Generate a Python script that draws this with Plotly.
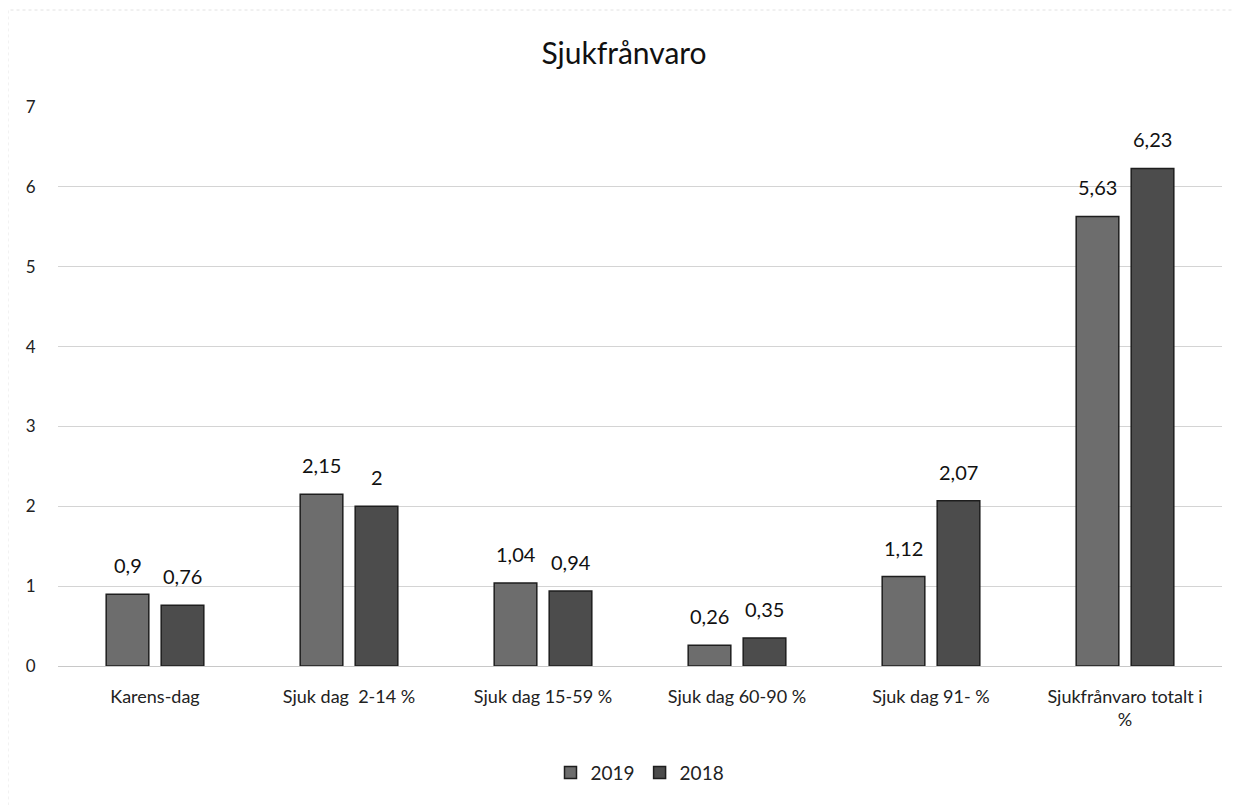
import plotly.graph_objects as go

categories = ["Karens-dag", "Sjuk dag  2-14 %", "Sjuk dag 15-59 %", "Sjuk dag 60-90 %",
              "Sjuk dag 91- %", "Sjukfrånvaro totalt i<br>%"]
values_2019 = [0.9, 2.15, 1.04, 0.26, 1.12, 5.63]
values_2018 = [0.76, 2.0, 0.94, 0.35, 2.07, 6.23]
y_ticks = [0, 1, 2, 3, 4, 5, 6, 7]

font_family = "Lato, Open Sans, sans-serif"


def fmt(v):
    s = ("%g" % v).replace(".", ",")
    return s


fig = go.Figure()
fig.add_trace(go.Bar(
    name="2019", x=categories, y=values_2019,
    marker=dict(color="#6d6d6d", line=dict(color="#1e1e1e", width=1.5)),
))
fig.add_trace(go.Bar(
    name="2018", x=categories, y=values_2018,
    marker=dict(color="#4c4c4c", line=dict(color="#1e1e1e", width=1.5)),
))

annotations = []
for series, dx in ((values_2019, -27.5), (values_2018, 27.5)):
    for cat, v in zip(categories, series):
        annotations.append(dict(
            x=cat, y=v, xref="x", yref="y", text=fmt(v), showarrow=False,
            xanchor="center", yanchor="bottom", xshift=dx, yshift=15,
            font=dict(size=20, color="#111111", family=font_family),
        ))

fig.update_layout(
    width=1232, height=797,
    paper_bgcolor="white", plot_bgcolor="white",
    separators=", ",
    font=dict(family=font_family, size=18, color="#222222"),
    title=dict(text="Sjukfrånvaro", x=0.5, xanchor="center", y=0.943, yanchor="middle",
               font=dict(size=30, color="#111111", family=font_family)),
    margin=dict(l=50, r=18, t=99, b=139, autoexpand=False),
    barmode="group", bargap=0.433, bargroupgap=0.225,
    showlegend=True,
    legend=dict(orientation="h", x=0.5, xanchor="center", y=-0.191, yanchor="middle",
                font=dict(size=19, color="#222222"), traceorder="normal"),
    xaxis=dict(showgrid=False, showline=False, ticks="outside", ticklen=14,
               tickcolor="rgba(0,0,0,0)", automargin=False,
               tickfont=dict(size=18, color="#222222")),
    yaxis=dict(range=[0, 7], tickvals=y_ticks, showgrid=True, gridcolor="#d4d4d4", gridwidth=1,
               zeroline=True, zerolinecolor="#c8c8c8", zerolinewidth=1, showline=False,
               ticks="outside", ticklen=18, tickcolor="rgba(0,0,0,0)", automargin=False,
               tickfont=dict(size=17, color="#222222")),
    annotations=annotations,
    shapes=[dict(type="rect", xref="paper", yref="paper", x0=-0.043, x1=1.0095, y0=-0.26, y1=1.1735,
                 line=dict(color="#e2e2e2", width=1, dash="dot"), fillcolor="rgba(0,0,0,0)",
                 layer="below")],
)

fig.write_html("out.html")
